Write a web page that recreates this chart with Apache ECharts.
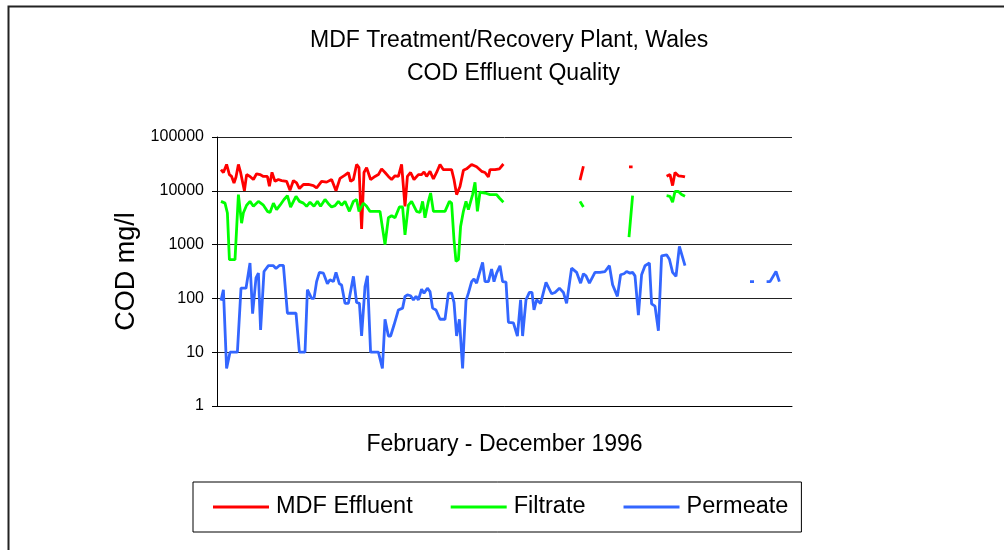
<!DOCTYPE html>
<html>
<head>
<meta charset="utf-8">
<script src="https://cdn.jsdelivr.net/npm/echarts@6/dist/echarts.min.js"></script>
<style>
  html, body { margin: 0; padding: 0; background: #fff; }
  #chart { width: 1004px; height: 550px; }
</style>
</head>
<body>
<div id="chart"></div>
<script>
// sample position along the Feb - Dec 1996 run (no labels on this axis)
var effluentDay = [2, 3.2, 4.8, 6.2, 7.3, 8.5, 9.5, 10.7, 11.8, 13.7, 14.8, 16.5, 18.2, 19.8, 21.5, 23.2, 25.2, 26.2, 27.5, 29,
    30.7, 32.3, 34.8, 36.5, 38.2, 39.8, 41.2, 43.2, 45.7, 48.2, 49.8, 52.3, 54.8, 57.3, 59.5, 61.5, 64, 65.7, 66.8, 68.2,
    69.8, 71, 72.3, 73.5, 74.8, 76.8, 79, 80.7, 82.3, 84, 85.7, 87.3, 89, 90.7, 92.3, 94, 95.2, 96.8, 98.5, 100.7,
    102.3, 103.5, 104.8, 106.5, 108.2, 109.8, 111.5, 113.2, 115.7, 117.3, 118.5, 119.8, 121.5, 123.2, 124.8, 127.3, 129.8, 132.3, 134, 135.7,
    136.5, 139, 141.2, 143.2, 160, 181.5, 183.2, 195, 206, 207.8, 215, 224.8, 226.5, 227.8, 229, 230.7, 232.8, 234];
var effluentCod = [24700, 21900, 30900, 20000, 18500, 14000, 18000, 30900, 21900, 10000, 20000, 18500, 16200, 20700, 20000, 18500, 18500, 12200, 22000, 15000,
    16200, 15500, 15000, 10200, 15500, 14000, 11000, 13100, 13100, 12500, 11300, 15000, 14500, 16200, 10000, 17000, 19500, 21900, 15000, 16200,
    30900, 27000, 1950, 21900, 26900, 16200, 18500, 20000, 25600, 21900, 18500, 16200, 19000, 18500, 30900, 5150, 18500, 21900, 16200, 20000,
    20000, 22500, 18500, 23000, 16700, 21900, 30900, 24700, 24700, 24700, 16200, 8500, 12000, 24000, 25600, 30900, 28000, 23000, 21900, 18100,
    24700, 24700, 25600, 31500, null, 15800, 28600, null, 27800, 27800, null, 18600, 20000, 12500, 21900, 19000, 18600, 18100];

var filtrateDay = [2, 4, 5.2, 6.2, 9, 10.7, 12.3, 13.2, 14.8, 16.5, 18.2, 20.7, 23.2, 25.2, 26.5, 28.2, 29.8, 31.5, 33.5, 35.2,
    36.8, 39.5, 41.2, 43.2, 44.8, 46.5, 48.5, 50.2, 51.8, 54, 55.7, 57.3, 59, 60.7, 62.3, 64, 66.2, 68.2, 69.8, 71,
    73.2, 74.8, 76.5, 81.5, 84, 85.7, 87.3, 89, 91.2, 92.8, 94, 95.7, 97.3, 99.8, 101.5, 102.8, 104, 105.7, 106.8, 108.2,
    110.2, 114, 116.2, 117.3, 118.5, 119.5, 120.7, 121.8, 123.2, 124.5, 125.7, 127.8, 129, 130.2, 131.5, 134, 136.5, 139.8, 141.2, 143.2,
    160, 181.5, 183.2, 195, 206, 207.8, 215, 224.8, 226.5, 227.8, 229, 230.7, 232.3, 234];
var filtrateCod = [6360, 5900, 3870, 525, 525, 8500, 2500, 3900, 5400, 6360, 5150, 6360, 5400, 4150, 3950, 5900, 4460, 5400, 6900, 8100,
    5000, 7900, 6360, 5900, 5150, 6150, 5150, 6360, 5150, 6900, 5750, 5000, 5300, 6360, 5400, 6360, 4150, 6360, 6900, 4150,
    5900, 5150, 4150, 4150, 1000, 3150, 3430, 3150, 5000, 5000, 1520, 5400, 6360, 4150, 3950, 6360, 3150, 6360, 9100, 4150,
    4150, 4150, 6360, 5900, 1230, 490, 525, 2180, 4150, 6360, 4460, 8500, 14400, 4150, 9400, 9100, 8500, 8500, 7350, 6150,
    null, 6360, 4980, null, 1380, 8130, null, 8100, 7900, 6150, 9700, 9700, 8500, 7900];

var permeateDay = [2, 3.2, 4.8, 6.5, 10.2, 12, 14.5, 16.5, 17.8, 19.5, 20.7, 21.8, 23.5, 25.7, 28.2, 29.5, 31.2, 33.2, 35.2, 39.5,
    41.2, 44, 45.2, 47.3, 48.5, 49.8, 51.2, 53.2, 55.2, 56.5, 58.2, 59.5, 61.2, 62.3, 64, 65.7, 68.2, 69.8, 71.2, 72.3,
    74, 75.2, 76.8, 80.7, 82.7, 84, 85.7, 86.8, 88.5, 90.7, 92.8, 94, 95.2, 96.8, 98.2, 99.5, 100.7, 102.3, 103.5, 105.2,
    106.5, 107.8, 109.5, 111.5, 114, 115.7, 117.3, 118.5, 119.8, 121.2, 122.8, 124.5, 125.7, 127.3, 128.5, 129.8, 131.2, 132.8, 134, 135.7,
    137.3, 138.5, 139.8, 141.5, 142.8, 144.5, 145.7, 148.2, 150.2, 151.8, 152.8, 154.5, 156.2, 157.5, 158.5, 159.8, 161.8, 164.5, 167.3, 169,
    171.2, 173.2, 174.8, 177.3, 179.8, 181.8, 183.2, 184.5, 186.2, 189, 191.5, 194, 196.2, 197.8, 200.2, 201.8, 203.5, 204.8, 206.5, 207.8,
    209, 210.7, 212.3, 214, 216.2, 217.3, 219, 220.7, 222.3, 224.8, 226.2, 227.8, 229.5, 231.2, 234,
    250, 266.5, 268.5, 272, 274.8, 276.5, 279.5, 281.2];
var permeateCod = [91, 145, 5, 10, 10, 155, 155, 455, 52, 240, 295, 26, 316, 405, 405, 360, 410, 410, 53, 53,
    10, 10, 145, 100, 100, 205, 305, 295, 187, 222, 205, 305, 187, 178, 81, 81, 257, 84, 81, 20,
    166, 264, 10, 10, 5, 41, 20, 20, 32, 61, 66, 109, 116, 112, 94, 109, 94, 149, 125, 155,
    134, 66, 61, 41, 41, 125, 125, 84, 20, 41, 5, 91, 125, 205, 230, 192, 295, 465, 205, 205,
    350, 205, 295, 405, 205, 200, 36, 35, 20, 94, 20, 94, 129, 129, 61, 94, 81, 198, 122, 129,
    155, 129, 81, 365, 305, 192, 287, 262, 192, 305, 305, 316, 405, 180, 109, 275, 287, 316, 295, 305,
    262, 49, 275, 405, 455, 79, 72, 25, 620, 645, 535, 305, 257, 930, 405,
    null, 205, 205, null, 205, 205, 316, 205];

var seriesNames = ['MDF Effluent', 'Filtrate', 'Permeate'];
var seriesColors = ['#ff0000', '#00ff00', '#3366ff'];
var yTicks = [1, 10, 100, 1000, 10000, 100000];
var titleLines = ['MDF Treatment/Recovery Plant, Wales', 'COD Effluent Quality'];

function pairUp(days, vals) {
    var out = [];
    for (var i = 0; i < days.length; i++) {
        out.push([days[i], vals[i] === null ? '-' : vals[i]]);
    }
    return out;
}

var font = 'Liberation Sans, Arial, sans-serif';
var chartDom = document.getElementById('chart');
var myChart = echarts.init(chartDom);

var seriesData = [
    pairUp(effluentDay, effluentCod),
    pairUp(filtrateDay, filtrateCod),
    pairUp(permeateDay, permeateCod)
];

var titleStyle = { fontFamily: font, fontSize: 23, fontWeight: 'normal', color: '#000' };

var option = {
    animation: false,
    backgroundColor: '#fff',
    textStyle: { fontFamily: font, color: '#000' },
    title: [
        { text: titleLines[0], left: 310, top: 29, padding: 0, textStyle: titleStyle },
        { text: titleLines[1], left: 407, top: 62, padding: 0, textStyle: titleStyle }
    ],
    graphic: [{
        type: 'rect',
        shape: { x: 8.5, y: 6.5, width: 1200, height: 700 },
        style: { fill: 'none', stroke: '#222', lineWidth: 2 },
        silent: true
    }],
    legend: {
        data: seriesNames,
        left: 193,
        top: 482,
        orient: 'horizontal',
        icon: 'rect',
        padding: [13, 13, 13, 20],
        itemGap: 38,
        itemWidth: 56,
        itemHeight: 3,
        borderColor: '#000',
        borderWidth: 1,
        textStyle: { fontFamily: font, fontSize: 23.5, color: '#000', padding: [0, 0, 0, 2] }
    },
    grid: { left: 217, right: 212, top: 137, bottom: 144 },
    xAxis: {
        type: 'value',
        min: 0,
        max: 287.5,
        name: 'February - December 1996',
        nameLocation: 'middle',
        nameGap: 27,
        nameTextStyle: { fontFamily: font, fontSize: 23, color: '#000' },
        axisLine: { show: true, lineStyle: { color: '#000', width: 1 } },
        axisTick: { show: false },
        axisLabel: { show: false },
        splitLine: { show: false }
    },
    yAxis: {
        type: 'log',
        logBase: 10,
        min: yTicks[0],
        max: yTicks[yTicks.length - 1],
        name: 'COD mg/l',
        nameLocation: 'middle',
        nameRotate: 90,
        nameGap: 68,
        nameTextStyle: { fontFamily: font, fontSize: 27, color: '#000' },
        axisLine: { show: true, lineStyle: { color: '#000', width: 1 } },
        axisTick: { show: true, length: 5, lineStyle: { color: '#000' } },
        axisLabel: {
            margin: 13, fontFamily: font, fontSize: 16, color: '#000',
            formatter: function (v) { return String(Math.round(v)); }
        },
        splitLine: { show: true, lineStyle: { color: '#222', width: 1 } }
    },
    series: seriesNames.map(function (name, k) {
        return {
            name: name,
            type: 'line',
            data: seriesData[k],
            symbol: 'none',
            connectNulls: false,
            color: seriesColors[k],
            lineStyle: { color: seriesColors[k], width: 2.8 }
        };
    })
};

option && myChart.setOption(option);
</script>
</body>
</html>
